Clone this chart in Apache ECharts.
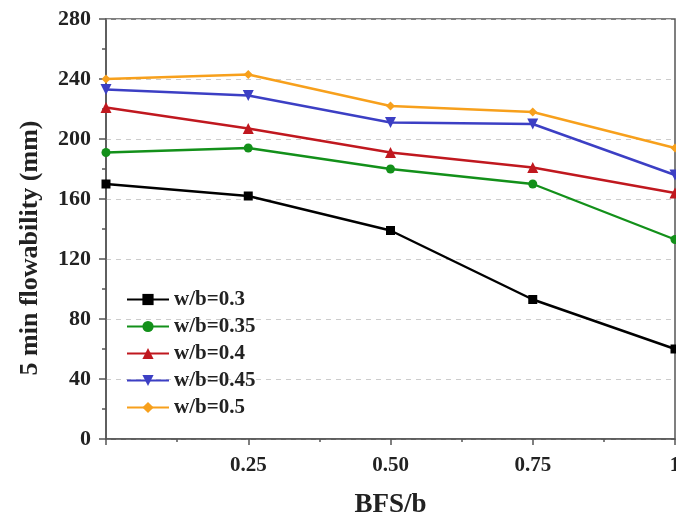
<!DOCTYPE html>
<html>
<head>
<meta charset="utf-8">
<script src="https://cdn.jsdelivr.net/npm/echarts@6/dist/echarts.min.js"></script>
<style>html,body{margin:0;padding:0;background:#fff}#c{width:676px;height:521px}</style>
</head>
<body>
<div id="c"></div>
<script>
var bfs = [0, 0.25, 0.5, 0.75, 1];
var names = ['w/b=0.3', 'w/b=0.35', 'w/b=0.4', 'w/b=0.45', 'w/b=0.5'];
var wb030 = [170, 162, 139, 93, 60];
var wb035 = [191, 194, 180, 170, 133];
var wb040 = [221, 207, 191, 181, 164];
var wb045 = [233, 229, 211, 210, 176];
var wb050 = [240, 243, 222, 218, 194];
var yTicks = [0, 40, 80, 120, 160, 200, 240, 280];

var seriesVals = [wb030, wb035, wb040, wb045, wb050];
var colors = ['#000000', '#13901a', '#c0181f', '#3c3fc4', '#f7a01c'];
var symbols = ['rect', 'circle', 'triangle', 'triangle', 'diamond'];
var rotates = [0, 0, 0, 180, 0];
var F = '"Liberation Serif", "Times New Roman", serif';

var series = seriesVals.map(function (vals, i) {
  return {
    name: names[i],
    type: 'line',
    data: vals.map(function (v, j) { return [bfs[j], v]; }),
    symbol: symbols[i],
    symbolRotate: rotates[i],
    symbolSize: i === 2 || i === 3 ? 11 : 9,
    showAllSymbol: true,
    clip: false,
    lineStyle: { color: colors[i], width: 2.4 },
    itemStyle: { color: colors[i] },
    emphasis: { disabled: true }
  };
});

var chart = echarts.init(document.getElementById('c'));
chart.setOption({
  animation: false,
  backgroundColor: '#fff',
  grid: { left: 106, right: 1, top: 19, bottom: 82, show: true, borderColor: '#555', borderWidth: 1.5, outerBoundsMode: 'none', containLabel: false },
  legend: {
    orient: 'vertical', left: 121, top: 284,
    itemWidth: 42, itemHeight: 14, itemGap: 6,
    textStyle: { fontFamily: F, fontWeight: 'bold', fontSize: 21, color: '#222' },
    data: names
  },
  xAxis: {
    type: 'value', min: 0, max: 1, interval: 0.25,
    name: 'BFS/b', nameLocation: 'middle', nameGap: 53,
    nameTextStyle: { fontFamily: F, fontWeight: 'bold', fontSize: 27, color: '#222' },
    axisLine: { lineStyle: { color: '#555', width: 1.5 } },
    axisTick: { show: true, length: 6, lineStyle: { color: '#555', width: 1.5 } },
    minorTick: { show: true, splitNumber: 2, length: 3, lineStyle: { color: '#555', width: 1.5 } },
    splitLine: { show: false },
    axisLabel: {
      fontFamily: F, fontWeight: 'bold', fontSize: 21, color: '#222', margin: 16,
      formatter: function (v) { return v === 0 ? '' : (v === 1 ? '1' : v.toFixed(2)); }
    }
  },
  yAxis: {
    type: 'value', min: yTicks[0], max: yTicks[yTicks.length - 1], interval: 40,
    name: '5 min flowability (mm)', nameLocation: 'middle', nameGap: 63,
    nameTextStyle: { fontFamily: F, fontWeight: 'bold', fontSize: 26, color: '#222', padding: [0, 38, 0, 0] },
    axisLine: { lineStyle: { color: '#555', width: 1.5 } },
    axisTick: { show: true, length: 7, lineStyle: { color: '#555', width: 1.5 } },
    minorTick: { show: true, splitNumber: 2, length: 4, lineStyle: { color: '#555', width: 1.5 } },
    splitLine: { show: true, lineStyle: { color: '#cccccc', type: [5, 5], width: 1 } },
    axisLabel: { fontFamily: F, fontWeight: 'bold', fontSize: 22, color: '#222', margin: 15 }
  },
  series: series
});
</script>
</body>
</html>
